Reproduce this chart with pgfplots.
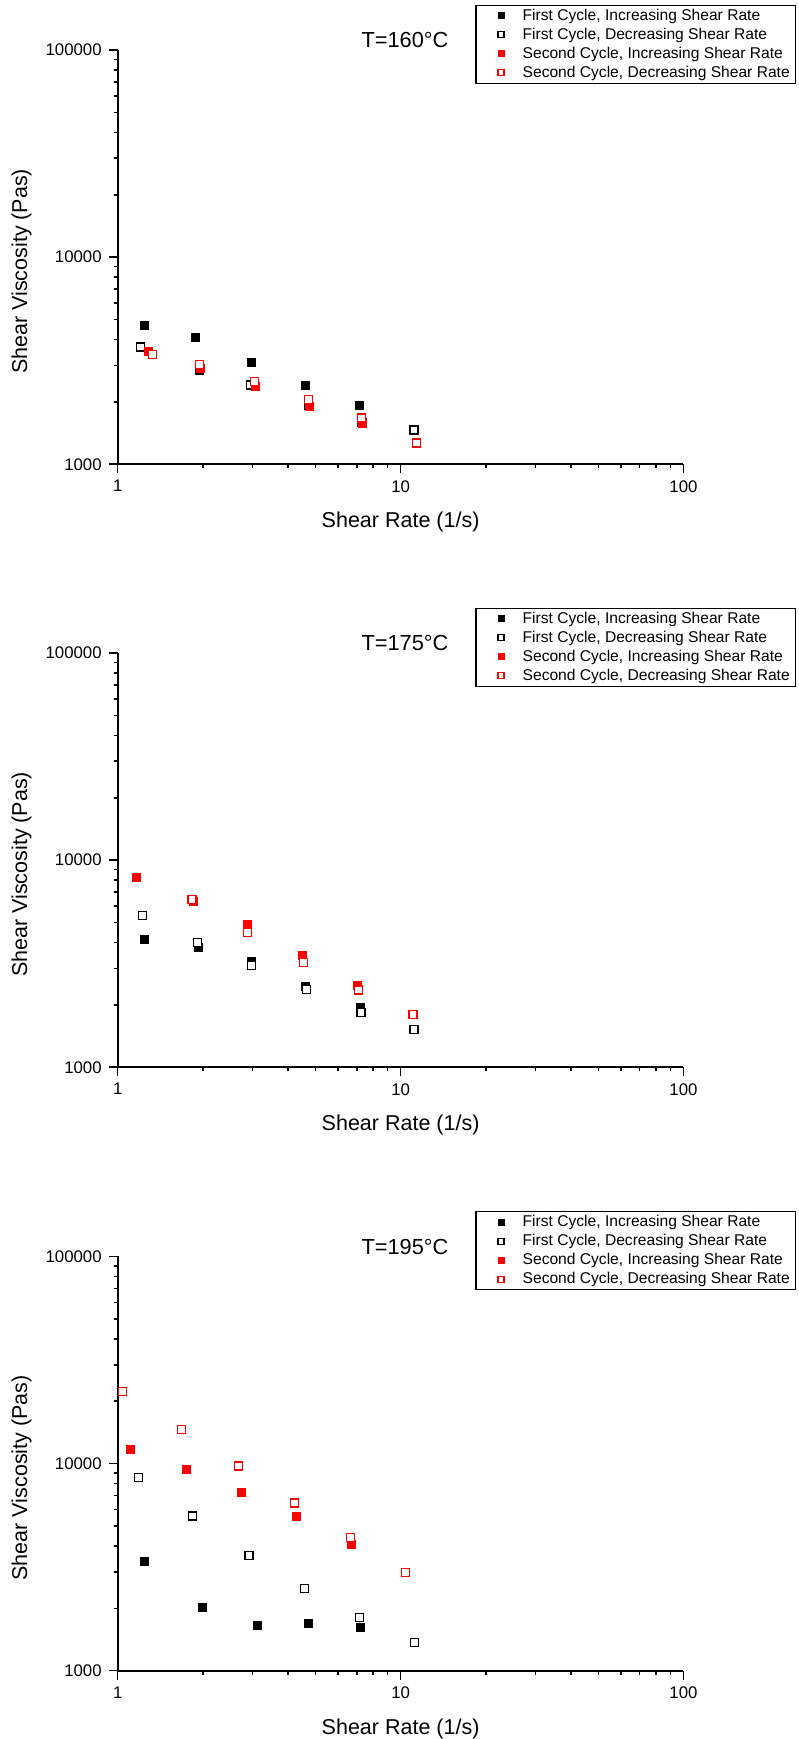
\documentclass[border=0pt]{standalone}
\usepackage{fontspec}
\setmainfont{Liberation Sans}
\usepackage{pgfplots}
\pgfplotsset{compat=1.18}

\pgfplotsset{
  bf/.style={only marks, mark=square*, mark size=2pt, mark options={draw=black, fill=black, line width=0.5pt}},
  bo/.style={only marks, mark=square*, mark size=2pt, mark options={draw=black, fill=white, line width=0.6pt}},
  rf/.style={only marks, mark=square*, mark size=2pt, mark options={draw=red, fill=red, line width=0.5pt}},
  ro/.style={only marks, mark=square*, mark size=2pt, mark options={draw=red, fill=white, line width=0.6pt}},
}

\begin{document}
\begin{tikzpicture}
\useasboundingbox (0,0) rectangle (399pt,869.5pt);

% ---------- Panel 1: T=160C ----------
\begin{axis}[scale only axis, width=282.9pt, height=207.15pt,
    anchor=south west, at={(58.85pt,637.35pt)},
    xmode=log, ymode=log, xmin=1, xmax=100, ymin=1000, ymax=100000,
    axis x line*=bottom, axis y line*=left,
    axis line style={-, line width=0.9pt},
    tick align=outside,
    major tick length=4.5pt, minor tick length=2pt,
    every tick/.style={black, line width=0.8pt},
    log ticks with fixed point,
    /pgf/number format/1000 sep={},
    /pgf/number format/assume math mode=true,
    tick label style={font=\fontsize{8.4}{10}\selectfont},
    label style={font=\fontsize{10.75}{12}\selectfont},
    xlabel={Shear Rate (1/s)},
    ylabel={Shear Viscosity (Pas)},
    xlabel style={at={(axis description cs:0.5,-0.1538)}, anchor=base},
    ylabel style={at={(axis description cs:-0.1603,0.4655)}, anchor=base},
    clip=false,
    legend cell align=left,
    legend style={at={(axis description cs:1.1995,1.1093)}, anchor=north east,
      draw=black, line width=0.6pt,
      font=\fontsize{7.8}{9.5}\selectfont,
      inner xsep=3pt, inner ysep=0.5pt, row sep=0pt, column sep=0pt,
      nodes={inner xsep=0pt, inner ysep=0pt, text height=7pt, text depth=2.5pt}},
    legend image code/.code={%
      \path[draw=none, fill=none] (0pt,-2pt) rectangle (20.3pt,2pt);
      \draw[#1, mark size=1.5pt] plot coordinates {(9.5pt,0pt)};}]
\addplot[bf] coordinates {(1.24,4670) (1.89,4100) (2.97,3083) (4.62,2411) (7.17,1931)};
\addlegendentry{First Cycle, Increasing Shear Rate}
\addplot[bo] coordinates {(1.205,3685) (1.95,2850) (2.95,2415) (4.74,1920) (7.30,1590) (11.16,1464)};
\addlegendentry{First Cycle, Decreasing Shear Rate}
\addplot[rf] coordinates {(1.29,3499) (1.96,2915) (3.06,2380) (4.76,1900) (7.32,1577)};
\addlegendentry{Second Cycle, Increasing Shear Rate}
\addplot[ro] coordinates {(1.325,3377) (1.946,3033) (3.04,2500) (4.72,2049) (7.29,1674) (11.39,1268)};
\addlegendentry{Second Cycle, Decreasing Shear Rate}
\node[anchor=base, font=\fontsize{10.9}{12}\selectfont] at (axis description cs:0.5078,1.0048) {T=160°C};
\end{axis}

% ---------- Panel 2: T=175C ----------
\begin{axis}[scale only axis, width=282.9pt, height=207.15pt,
    anchor=south west, at={(58.85pt,335.85pt)},
    xmode=log, ymode=log, xmin=1, xmax=100, ymin=1000, ymax=100000,
    axis x line*=bottom, axis y line*=left,
    axis line style={-, line width=0.9pt},
    tick align=outside,
    major tick length=4.5pt, minor tick length=2pt,
    every tick/.style={black, line width=0.8pt},
    log ticks with fixed point,
    /pgf/number format/1000 sep={},
    /pgf/number format/assume math mode=true,
    tick label style={font=\fontsize{8.4}{10}\selectfont},
    label style={font=\fontsize{10.75}{12}\selectfont},
    xlabel={Shear Rate (1/s)},
    ylabel={Shear Viscosity (Pas)},
    xlabel style={at={(axis description cs:0.5,-0.1538)}, anchor=base},
    ylabel style={at={(axis description cs:-0.1603,0.4655)}, anchor=base},
    clip=false,
    legend cell align=left,
    legend style={at={(axis description cs:1.1995,1.1093)}, anchor=north east,
      draw=black, line width=0.6pt,
      font=\fontsize{7.8}{9.5}\selectfont,
      inner xsep=3pt, inner ysep=0.5pt, row sep=0pt, column sep=0pt,
      nodes={inner xsep=0pt, inner ysep=0pt, text height=7pt, text depth=2.5pt}},
    legend image code/.code={%
      \path[draw=none, fill=none] (0pt,-2pt) rectangle (20.3pt,2pt);
      \draw[#1, mark size=1.5pt] plot coordinates {(9.5pt,0pt)};}]
\addplot[bf] coordinates {(1.24,4117) (1.923,3787) (2.97,3259) (4.60,2449) (7.20,1946)};
\addlegendentry{First Cycle, Increasing Shear Rate}
\addplot[bo] coordinates {(1.22,5412) (1.92,4020) (2.98,3106) (4.66,2373) (7.25,1841) (11.16,1522)};
\addlegendentry{First Cycle, Decreasing Shear Rate}
\addplot[rf] coordinates {(1.166,8203) (1.86,6314) (2.87,4882) (4.49,3458) (7.02,2488)};
\addlegendentry{Second Cycle, Increasing Shear Rate}
\addplot[ro] coordinates {(1.83,6467) (2.88,4473) (4.53,3207) (7.08,2363) (11.07,1798)};
\addlegendentry{Second Cycle, Decreasing Shear Rate}
\node[anchor=base, font=\fontsize{10.9}{12}\selectfont] at (axis description cs:0.5078,1.0048) {T=175°C};
\end{axis}

% ---------- Panel 3: T=195C ----------
\begin{axis}[scale only axis, width=282.9pt, height=207.15pt,
    anchor=south west, at={(58.85pt,34.15pt)},
    xmode=log, ymode=log, xmin=1, xmax=100, ymin=1000, ymax=100000,
    axis x line*=bottom, axis y line*=left,
    axis line style={-, line width=0.9pt},
    tick align=outside,
    major tick length=4.5pt, minor tick length=2pt,
    every tick/.style={black, line width=0.8pt},
    log ticks with fixed point,
    /pgf/number format/1000 sep={},
    /pgf/number format/assume math mode=true,
    tick label style={font=\fontsize{8.4}{10}\selectfont},
    label style={font=\fontsize{10.75}{12}\selectfont},
    xlabel={Shear Rate (1/s)},
    ylabel={Shear Viscosity (Pas)},
    xlabel style={at={(axis description cs:0.5,-0.1538)}, anchor=base},
    ylabel style={at={(axis description cs:-0.1603,0.4655)}, anchor=base},
    clip=false,
    legend cell align=left,
    legend style={at={(axis description cs:1.1995,1.1093)}, anchor=north east,
      draw=black, line width=0.6pt,
      font=\fontsize{7.8}{9.5}\selectfont,
      inner xsep=3pt, inner ysep=0.5pt, row sep=0pt, column sep=0pt,
      nodes={inner xsep=0pt, inner ysep=0pt, text height=7pt, text depth=2.5pt}},
    legend image code/.code={%
      \path[draw=none, fill=none] (0pt,-2pt) rectangle (20.3pt,2pt);
      \draw[#1, mark size=1.5pt] plot coordinates {(9.5pt,0pt)};}]
\addplot[bf] coordinates {(1.245,3373) (1.99,2015) (3.12,1654) (4.72,1694) (7.23,1615)};
\addlegendentry{First Cycle, Increasing Shear Rate}
\addplot[bo] coordinates {(1.185,8548) (1.84,5579) (2.91,3612) (4.58,2493) (7.17,1814) (11.2,1369)};
\addlegendentry{First Cycle, Decreasing Shear Rate}
\addplot[rf] coordinates {(1.114,11747) (1.756,9340) (2.73,7246) (4.27,5534) (6.68,4058)};
\addlegendentry{Second Cycle, Increasing Shear Rate}
\addplot[ro] coordinates {(1.038,22370) (1.684,14600) (2.676,9723) (4.22,6448) (6.65,4381) (10.44,2989)};
\addlegendentry{Second Cycle, Decreasing Shear Rate}
\node[anchor=base, font=\fontsize{10.9}{12}\selectfont] at (axis description cs:0.5078,1.0048) {T=195°C};
\end{axis}
\end{tikzpicture}
\end{document}
